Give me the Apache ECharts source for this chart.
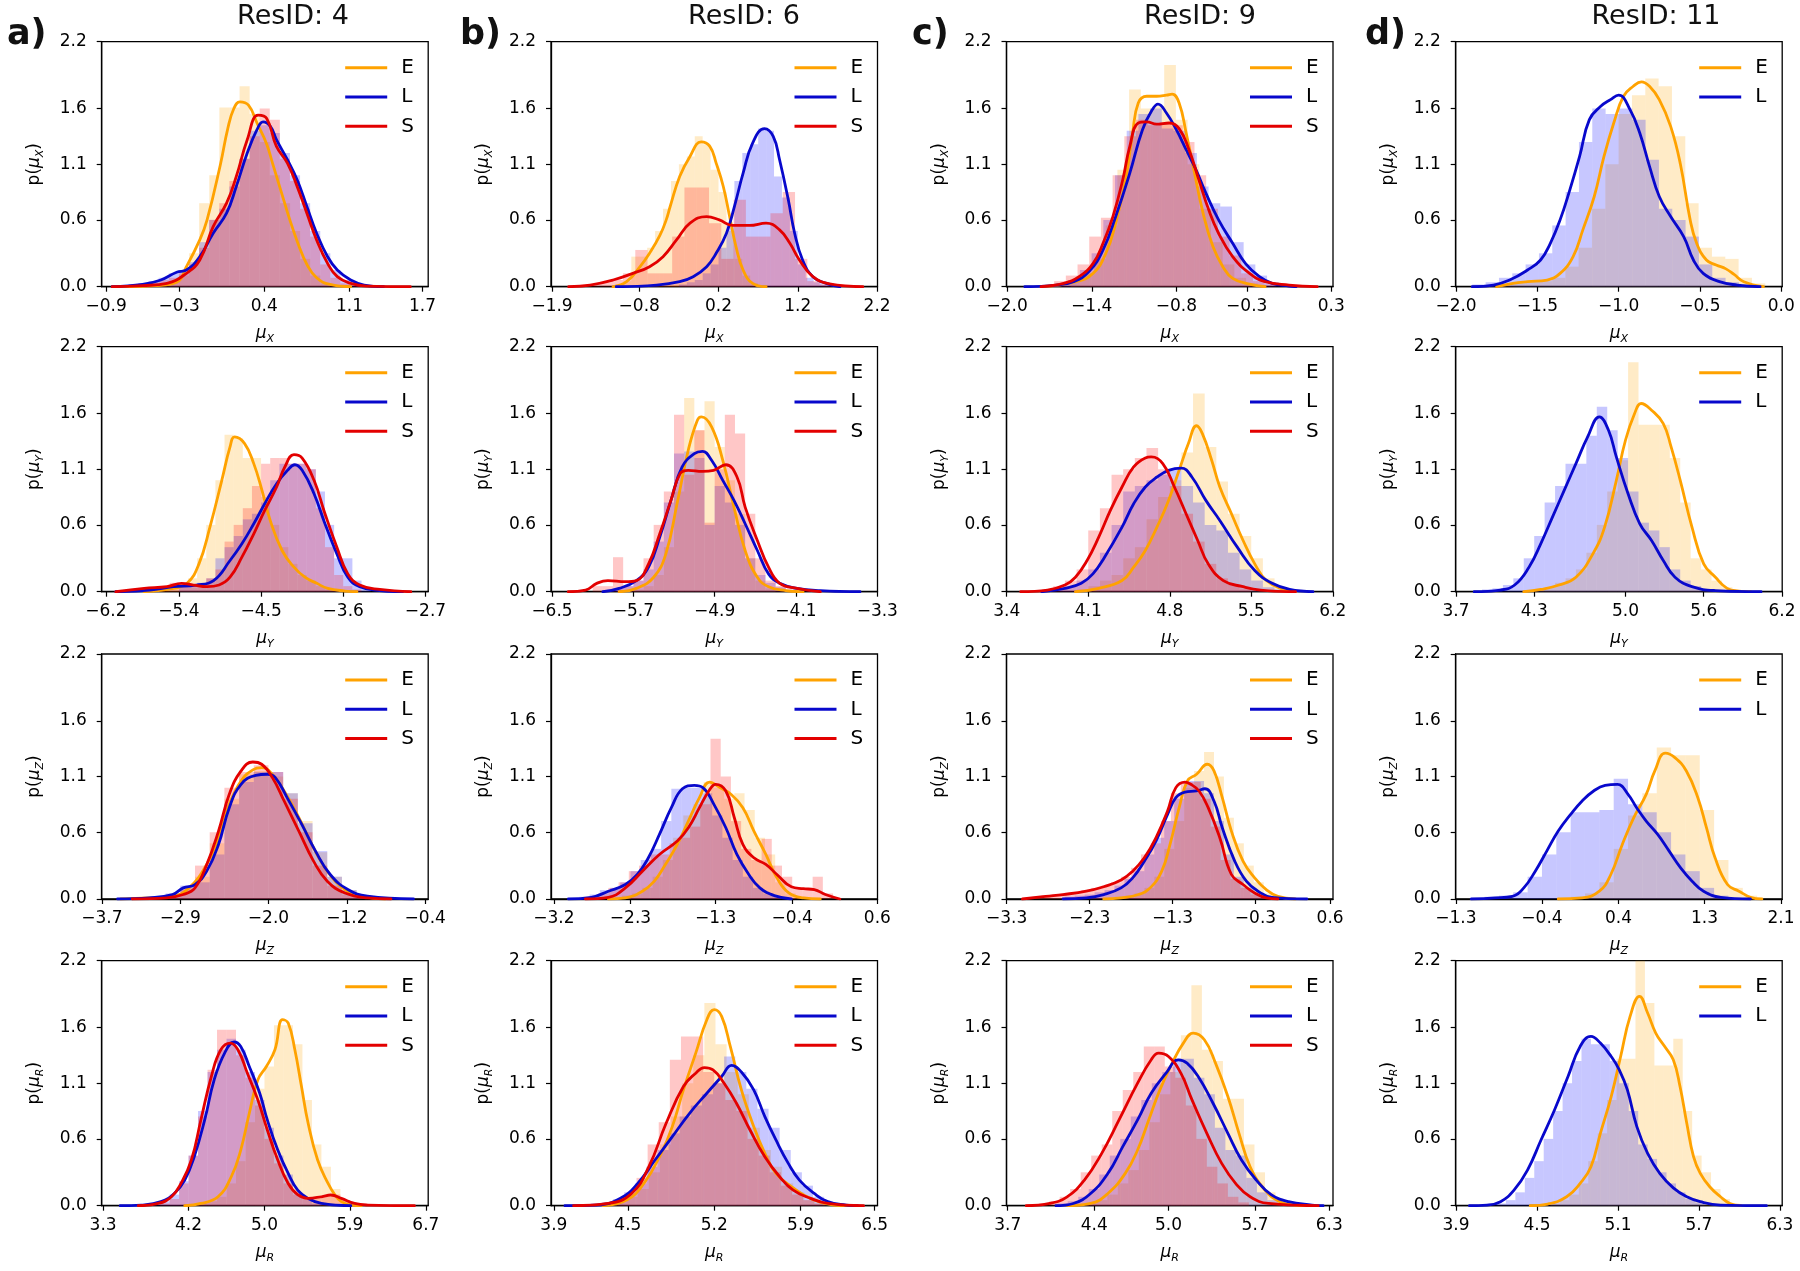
<!DOCTYPE html>
<html><head><meta charset="utf-8">
<script src="https://cdn.jsdelivr.net/npm/echarts@6/dist/echarts.min.js"></script>
<style>html,body{margin:0;padding:0;background:#fff}#c{width:1800px;height:1271px}</style>
</head><body><div id="c"></div>
<script>
// ---------- text ----------
const columnTitles = ['ResID: 4', 'ResID: 6', 'ResID: 9', 'ResID: 11'];
const panelLetters = ['a)', 'b)', 'c)', 'd)'];
const rowSubscripts = ['X', 'Y', 'Z', 'R'];
const yTicks = [0.0, 0.6, 1.1, 1.6, 2.2];

// ---------- x axis ranges & tick labels (column letter, row number) ----------
const xTicks_a1 = [-0.9, -0.3, 0.4, 1.1, 1.7];   const xLim_a1 = [-0.936, 1.747];
const xTicks_b1 = [-1.9, -0.8, 0.2, 1.2, 2.2];   const xLim_b1 = [-1.913, 2.205];
const xTicks_c1 = [-2.0, -1.4, -0.8, -0.3, 0.3]; const xLim_c1 = [-2.005, 0.312];
const xTicks_d1 = [-2.0, -1.5, -1.0, -0.5, 0.0]; const xLim_d1 = [-2.002, 0.006];
const xTicks_a2 = [-6.2, -5.4, -4.5, -3.6, -2.7]; const xLim_a2 = [-6.245, -2.67];
const xTicks_b2 = [-6.5, -5.7, -4.9, -4.1, -3.3]; const xLim_b2 = [-6.51, -3.298];
const xTicks_c2 = [3.4, 4.1, 4.8, 5.5, 6.2];     const xLim_c2 = [3.398, 6.202];
const xTicks_d2 = [3.7, 4.3, 5.0, 5.6, 6.2];     const xLim_d2 = [3.698, 6.202];
const xTicks_a3 = [-3.7, -2.9, -2.0, -1.2, -0.4]; const xLim_a3 = [-3.702, -0.37];
const xTicks_b3 = [-3.2, -2.3, -1.3, -0.4, 0.6]; const xLim_b3 = [-3.234, 0.602];
const xTicks_c3 = [-3.3, -2.3, -1.3, -0.3, 0.6]; const xLim_c3 = [-3.302, 0.635];
const xTicks_d3 = [-1.3, -0.4, 0.4, 1.3, 2.1];   const xLim_d3 = [-1.302, 2.112];
const xTicks_a4 = [3.3, 4.2, 5.0, 5.9, 6.7];     const xLim_a4 = [3.285, 6.725];
const xTicks_b4 = [3.9, 4.5, 5.2, 5.9, 6.5];     const xLim_b4 = [3.877, 6.523];
const xTicks_c4 = [3.7, 4.4, 5.0, 5.7, 6.3];     const xLim_c4 = [3.69, 6.33];
const xTicks_d4 = [3.9, 4.5, 5.1, 5.7, 6.3];     const xLim_d4 = [3.898, 6.317];

// ---------- row 1 : mu_X ----------
const a1_E_kde = [[-0.80,0],[-0.50,0.01],[-0.32,0.04],[-0.24,0.18],[-0.13,0.42],[-0.07,0.6],[0.04,1.1],[0.10,1.42],[0.15,1.60],[0.20,1.66],[0.27,1.63],[0.34,1.47],[0.42,1.28],[0.47,1.1],[0.54,0.85],[0.61,0.6],[0.68,0.38],[0.75,0.2],[0.83,0.08],[0.94,0.02],[1.11,0]];
const a1_L_kde = [[-0.85,0],[-0.6,0.02],[-0.45,0.06],[-0.32,0.13],[-0.24,0.15],[-0.13,0.27],[-0.02,0.48],[0.09,0.66],[0.17,0.9],[0.26,1.2],[0.34,1.41],[0.39,1.48],[0.45,1.44],[0.5,1.32],[0.59,1.14],[0.67,0.96],[0.75,0.72],[0.83,0.48],[0.92,0.27],[1.0,0.15],[1.11,0.06],[1.22,0.015],[1.38,0]];
const a1_S_kde = [[-0.85,0],[-0.6,0.01],[-0.4,0.03],[-0.24,0.12],[-0.13,0.24],[-0.02,0.54],[0.09,0.75],[0.17,0.99],[0.26,1.32],[0.35,1.54],[0.42,1.51],[0.5,1.26],[0.59,1.11],[0.67,0.9],[0.75,0.66],[0.83,0.42],[0.92,0.21],[1.0,0.09],[1.11,0.03],[1.24,0.006],[1.6,0]];
const a1_E_hist = {start:-0.55, width:0.083, h:[0.01,0.02,0.04,0.1,0.3,0.75,1.0,1.61,1.61,1.8,1.55,1.3,1.0,0.75,0.5,0.25,0.1,0.03]};
const a1_L_hist = {start:-0.8, width:0.083, h:[0.01,0.02,0.03,0.05,0.08,0.12,0.15,0.22,0.4,0.6,0.7,0.9,1.15,1.4,1.45,1.38,1.2,1.0,0.75,0.5,0.3,0.15,0.06,0.02]};
const a1_S_hist = {start:-0.8, width:0.083, h:[0.01,0.02,0.03,0.04,0.06,0.08,0.12,0.2,0.35,0.6,0.75,0.95,1.15,1.35,1.6,1.5,1.15,0.95,0.7,0.45,0.2,0.08,0.03,0.01]};

const b1_E_kde = [[-1.13,0],[-0.96,0.045],[-0.79,0.18],[-0.67,0.3],[-0.54,0.46],[-0.46,0.6],[-0.41,0.72],[-0.29,0.99],[-0.16,1.17],[-0.02,1.30],[0.09,1.26],[0.17,1.11],[0.26,0.9],[0.34,0.63],[0.42,0.36],[0.51,0.15],[0.63,0.03],[0.8,0]];
const b1_L_kde = [[-1.09,0],[-0.58,0.015],[-0.29,0.045],[-0.12,0.09],[0.05,0.18],[0.17,0.3],[0.3,0.48],[0.4,0.72],[0.51,1.02],[0.63,1.29],[0.78,1.42],[0.89,1.35],[0.97,1.14],[1.08,0.78],[1.16,0.48],[1.26,0.24],[1.39,0.09],[1.56,0.03],[1.73,0]];
const b1_S_kde = [[-1.69,0],[-1.42,0.015],[-1.13,0.06],[-0.88,0.12],[-0.67,0.18],[-0.5,0.27],[-0.33,0.42],[-0.16,0.57],[0.05,0.63],[0.21,0.6],[0.38,0.55],[0.59,0.55],[0.8,0.57],[0.97,0.51],[1.1,0.39],[1.22,0.24],[1.39,0.09],[1.6,0.025],[2.02,0]];
const b1_E_hist = {start:-1.1, width:0.1, h:[0.02,0.05,0.27,0.27,0.35,0.5,0.7,0.95,1.1,1.17,1.35,1.28,1.05,0.85,0.5,0.25,0.1,0.03]};
const b1_L_hist = {start:-0.3, width:0.1, h:[0.02,0.04,0.06,0.12,0.2,0.35,0.55,0.95,1.2,1.28,1.42,1.4,0.99,0.8,0.5,0.2,0.08,0.04,0.02]};
const b1_S_hist = {start:-1.47, width:0.155, h:[0.02,0.04,0.06,0.12,0.33,0.12,0.12,0.45,0.89,0.89,0.57,0.25,0.78,0.45,0.45,0.66,0.85,0.25,0.05,0.02]};

const c1_E_kde = [[-1.76,0],[-1.51,0.045],[-1.39,0.12],[-1.30,0.3],[-1.23,0.57],[-1.16,0.96],[-1.11,1.38],[-1.07,1.65],[-1.01,1.71],[-0.94,1.71],[-0.87,1.72],[-0.83,1.73],[-0.78,1.65],[-0.73,1.38],[-0.68,1.08],[-0.61,0.66],[-0.54,0.36],[-0.47,0.18],[-0.40,0.075],[-0.28,0.024],[-0.17,0]];
const c1_L_kde = [[-1.875,0],[-1.65,0.015],[-1.53,0.045],[-1.42,0.135],[-1.32,0.33],[-1.23,0.63],[-1.13,1.02],[-1.04,1.41],[-0.97,1.59],[-0.93,1.64],[-0.87,1.56],[-0.80,1.41],[-0.73,1.23],[-0.66,1.05],[-0.59,0.84],[-0.50,0.6],[-0.40,0.39],[-0.31,0.21],[-0.21,0.09],[-0.12,0.03],[0.0,0.006],[0.05,0]];
const c1_S_kde = [[-1.76,0],[-1.6,0.03],[-1.49,0.09],[-1.39,0.21],[-1.32,0.39],[-1.25,0.63],[-1.18,0.96],[-1.13,1.26],[-1.07,1.47],[-1.01,1.48],[-0.94,1.46],[-0.85,1.47],[-0.78,1.42],[-0.71,1.23],[-0.64,0.96],[-0.57,0.69],[-0.5,0.48],[-0.4,0.27],[-0.28,0.12],[-0.17,0.045],[0.0,0.015],[0.2,0]];
const c1_E_hist = {start:-1.55, width:0.083, h:[0.05,0.12,0.25,0.55,1.05,1.77,1.6,1.62,1.99,1.5,1.1,0.7,0.4,0.2,0.08,0.03]};
const c1_L_hist = {start:-1.65, width:0.083, h:[0.03,0.06,0.15,0.3,0.6,1.0,1.4,1.55,1.6,1.42,1.4,1.2,0.9,0.75,0.72,0.4,0.2,0.1,0.04]};
const c1_S_hist = {start:-1.75, width:0.083, h:[0.02,0.05,0.1,0.2,0.45,0.62,1.0,1.35,1.5,1.45,1.48,1.45,1.3,1.0,0.7,0.45,0.28,0.12,0.05,0.02]};

const d1_E_kde = [[-1.75,0],[-1.65,0.03],[-1.56,0.045],[-1.44,0.06],[-1.36,0.12],[-1.28,0.27],[-1.22,0.51],[-1.15,0.81],[-1.09,1.17],[-1.03,1.47],[-0.97,1.71],[-0.91,1.8],[-0.86,1.84],[-0.81,1.8],[-0.75,1.68],[-0.68,1.44],[-0.62,1.1],[-0.56,0.6],[-0.52,0.39],[-0.46,0.24],[-0.4,0.195],[-0.34,0.16],[-0.29,0.11],[-0.23,0.045],[-0.11,0]];
const d1_L_kde = [[-1.9,0],[-1.77,0.015],[-1.67,0.06],[-1.56,0.15],[-1.48,0.24],[-1.42,0.39],[-1.36,0.6],[-1.3,0.87],[-1.24,1.17],[-1.18,1.5],[-1.11,1.62],[-1.05,1.68],[-1.0,1.72],[-0.93,1.59],[-0.87,1.38],[-0.81,1.08],[-0.75,0.81],[-0.68,0.63],[-0.6,0.45],[-0.54,0.24],[-0.48,0.12],[-0.38,0.045],[-0.27,0.015],[-0.13,0]];
const d1_E_hist = {start:-1.82, width:0.082, h:[0.01,0.02,0.03,0.05,0.05,0.08,0.18,0.35,0.7,1.1,1.55,1.72,1.87,1.8,1.35,0.75,0.35,0.27,0.25,0.08,0.03]};
const d1_L_hist = {start:-1.9, width:0.082, h:[0.02,0.04,0.08,0.12,0.2,0.3,0.55,0.85,1.3,1.6,1.55,1.6,1.5,1.14,0.7,0.6,0.45,0.2,0.08,0.04,0.02]};

// ---------- row 2 : mu_Y ----------
const a2_E_kde = [[-5.78,0],[-5.46,0.03],[-5.31,0.075],[-5.18,0.25],[-5.06,0.58],[-4.93,1.0],[-4.84,1.3],[-4.79,1.39],[-4.68,1.33],[-4.58,1.15],[-4.49,0.91],[-4.4,0.64],[-4.27,0.37],[-4.14,0.22],[-4.02,0.13],[-3.89,0.075],[-3.77,0.03],[-3.58,0.006],[-3.45,0]];
const a2_L_kde = [[-6.09,0],[-5.72,0.015],[-5.46,0.045],[-5.21,0.06],[-5.02,0.1],[-4.84,0.28],[-4.71,0.43],[-4.58,0.61],[-4.46,0.79],[-4.33,0.97],[-4.21,1.09],[-4.13,1.14],[-4.05,1.09],[-3.92,0.88],[-3.8,0.61],[-3.67,0.34],[-3.55,0.13],[-3.42,0.045],[-3.2,0.01],[-2.95,0]];
const a2_S_kde = [[-6.09,0],[-5.78,0.03],[-5.53,0.045],[-5.37,0.075],[-5.24,0.06],[-5.09,0.045],[-4.96,0.06],[-4.84,0.13],[-4.71,0.31],[-4.58,0.52],[-4.46,0.73],[-4.33,0.94],[-4.24,1.12],[-4.14,1.23],[-4.05,1.2],[-3.92,1.0],[-3.8,0.7],[-3.67,0.4],[-3.55,0.16],[-3.42,0.06],[-3.2,0.02],[-2.86,0]];
const a2_E_hist = {start:-5.8, width:0.1, h:[0.02,0.03,0.05,0.05,0.08,0.12,0.3,0.6,1.0,1.41,1.38,1.2,1.2,0.85,0.6,0.4,0.25,0.15,0.1,0.05,0.02]};
const a2_L_hist = {start:-5.4, width:0.1, h:[0.05,0.06,0.08,0.12,0.3,0.4,0.5,0.65,0.7,0.8,1.0,1.15,1.15,1.15,1.1,0.9,0.6,0.3,0.3,0.1,0.03]};
const a2_S_hist = {start:-5.6, width:0.1, h:[0.05,0.08,0.06,0.04,0.06,0.12,0.2,0.45,0.6,0.75,0.95,1.15,1.2,1.2,1.15,1.15,1.1,0.75,0.4,0.15,0.05,0.02]};

const b2_E_kde = [[-5.84,0],[-5.67,0.03],[-5.5,0.13],[-5.38,0.34],[-5.27,0.79],[-5.16,1.27],[-5.07,1.54],[-5.03,1.57],[-4.93,1.48],[-4.82,1.18],[-4.71,0.76],[-4.6,0.37],[-4.48,0.13],[-4.37,0.045],[-4.2,0.01],[-4.03,0]];
const b2_L_kde = [[-6.0,0],[-5.84,0.03],[-5.67,0.1],[-5.55,0.22],[-5.44,0.49],[-5.33,0.82],[-5.22,1.12],[-5.1,1.24],[-5.02,1.26],[-4.93,1.18],[-4.82,1.0],[-4.71,0.82],[-4.6,0.61],[-4.48,0.37],[-4.37,0.16],[-4.26,0.075],[-4.09,0.03],[-3.86,0.01],[-3.47,0]];
const b2_S_kde = [[-6.34,0],[-6.17,0.015],[-6.06,0.075],[-5.95,0.1],[-5.78,0.09],[-5.67,0.1],[-5.55,0.25],[-5.44,0.52],[-5.33,0.82],[-5.24,1.06],[-5.16,1.09],[-5.02,1.08],[-4.91,1.09],[-4.79,1.14],[-4.68,1.03],[-4.6,0.76],[-4.48,0.46],[-4.37,0.22],[-4.26,0.075],[-4.09,0.03],[-3.86,0]];
const b2_E_hist = {start:-5.7, width:0.1, h:[0.02,0.05,0.15,0.4,0.9,1.74,1.45,1.71,1.3,1.0,0.7,0.3,0.1,0.03]};
const b2_L_hist = {start:-5.9, width:0.1, h:[0.03,0.05,0.1,0.2,0.45,0.8,1.24,1.26,1.2,0.6,0.95,0.8,0.6,0.3,0.15,0.08,0.04,0.02]};
const b2_S_hist = {start:-6.1, width:0.1, h:[0.05,0.05,0.31,0.05,0.1,0.3,0.6,0.9,1.59,1.05,1.45,0.62,1.1,1.59,1.42,0.7,0.3,0.1,0.05]};

const c2_E_kde = [[3.99,0],[4.19,0.03],[4.39,0.1],[4.49,0.22],[4.59,0.37],[4.69,0.58],[4.79,0.82],[4.89,1.12],[4.96,1.33],[5.03,1.49],[5.08,1.42],[5.16,1.18],[5.23,0.94],[5.33,0.7],[5.43,0.46],[5.53,0.25],[5.63,0.1],[5.78,0.02],[5.88,0]];
const c2_L_kde = [[3.7,0],[3.9,0.03],[4.04,0.075],[4.14,0.16],[4.24,0.31],[4.39,0.58],[4.49,0.79],[4.59,0.94],[4.69,1.03],[4.79,1.09],[4.9,1.11],[4.99,1.03],[5.11,0.82],[5.23,0.64],[5.38,0.4],[5.53,0.19],[5.68,0.075],[5.83,0.02],[6.03,0]];
const c2_S_kde = [[3.52,0],[3.75,0.015],[3.9,0.06],[3.99,0.13],[4.09,0.28],[4.19,0.49],[4.29,0.73],[4.39,0.94],[4.49,1.12],[4.59,1.2],[4.64,1.21],[4.74,1.15],[4.84,0.94],[4.94,0.7],[5.04,0.46],[5.13,0.25],[5.26,0.1],[5.43,0.045],[5.58,0.015],[5.88,0]];
const c2_E_hist = {start:4.0, width:0.1, h:[0.02,0.05,0.1,0.15,0.3,0.4,0.65,0.85,1.0,1.25,1.78,1.3,0.99,0.7,0.5,0.3,0.12,0.04]};
const c2_L_hist = {start:3.8, width:0.1, h:[0.02,0.05,0.1,0.2,0.35,0.6,0.9,0.95,1.0,1.05,1.1,0.95,0.8,0.6,0.55,0.35,0.2,0.1,0.04,0.02]};
const c2_S_hist = {start:3.7, width:0.1, h:[0.02,0.05,0.1,0.2,0.55,0.75,1.05,1.1,1.2,1.29,1.1,0.95,0.7,0.45,0.25,0.12,0.06,0.03]};

const d2_E_kde = [[4.22,0],[4.35,0.02],[4.49,0.06],[4.62,0.13],[4.75,0.34],[4.84,0.58],[4.93,1.0],[5.0,1.36],[5.07,1.6],[5.12,1.69],[5.2,1.63],[5.29,1.51],[5.35,1.3],[5.42,1.0],[5.51,0.58],[5.6,0.25],[5.69,0.13],[5.78,0.03],[5.87,0.006],[5.96,0]];
const d2_L_kde = [[3.84,0],[4.04,0.015],[4.15,0.06],[4.26,0.22],[4.35,0.43],[4.44,0.67],[4.53,0.91],[4.62,1.15],[4.71,1.39],[4.8,1.57],[4.87,1.45],[4.93,1.21],[5.02,0.88],[5.11,0.61],[5.2,0.46],[5.29,0.28],[5.38,0.13],[5.51,0.045],[5.69,0.01],[6.04,0]];
const d2_E_hist = {start:4.3, width:0.08, h:[0.02,0.04,0.08,0.12,0.2,0.35,0.6,0.9,1.18,2.06,1.5,1.5,1.5,1.2,0.8,0.3,0.2,0.1,0.04]};
const d2_L_hist = {start:3.9, width:0.08, h:[0.02,0.03,0.06,0.12,0.3,0.5,0.8,0.95,1.15,1.15,1.4,1.66,1.45,1.2,0.9,0.62,0.55,0.4,0.2,0.1,0.05,0.02]};

// ---------- row 3 : mu_Z ----------
const a3_E_kde = [[-3.51,0],[-3.22,0.01],[-2.98,0.025],[-2.81,0.1],[-2.63,0.31],[-2.51,0.55],[-2.4,0.85],[-2.28,1.06],[-2.16,1.16],[-2.07,1.18],[-1.96,1.12],[-1.84,0.97],[-1.69,0.73],[-1.54,0.46],[-1.4,0.25],[-1.22,0.085],[-1.05,0.025],[-0.81,0]];
const a3_L_kde = [[-3.54,0],[-3.22,0.01],[-2.98,0.04],[-2.87,0.1],[-2.75,0.13],[-2.63,0.25],[-2.51,0.49],[-2.4,0.82],[-2.28,1.03],[-2.13,1.11],[-2.01,1.12],[-1.93,1.09],[-1.81,0.91],[-1.66,0.67],[-1.52,0.43],[-1.37,0.22],[-1.19,0.085],[-0.99,0.025],[-0.52,0]];
const a3_S_kde = [[-3.39,0],[-3.04,0.01],[-2.87,0.04],[-2.75,0.1],[-2.63,0.31],[-2.51,0.61],[-2.4,0.94],[-2.28,1.15],[-2.16,1.23],[-2.07,1.21],[-1.96,1.09],[-1.84,0.88],[-1.69,0.61],[-1.54,0.34],[-1.4,0.16],[-1.22,0.054],[-0.99,0.01],[-0.75,0]];
const a3_E_hist = {start:-3.2, width:0.15, h:[0.01,0.03,0.08,0.2,0.5,0.9,1.12,1.15,1.1,0.95,0.7,0.42,0.2,0.08,0.02]};
const a3_L_hist = {start:-3.2, width:0.15, h:[0.02,0.05,0.12,0.15,0.4,0.85,1.05,1.14,1.14,0.95,0.68,0.43,0.2,0.08,0.03]};
const a3_S_hist = {start:-3.2, width:0.15, h:[0.01,0.03,0.1,0.3,0.6,1.0,1.14,1.2,1.14,0.9,0.6,0.3,0.12,0.04,0.01]};

const b3_E_kde = [[-2.56,0],[-2.36,0.01],[-2.16,0.07],[-2.02,0.16],[-1.89,0.31],[-1.75,0.49],[-1.62,0.7],[-1.49,0.91],[-1.37,1.05],[-1.25,1.0],[-1.12,0.94],[-0.98,0.82],[-0.85,0.61],[-0.71,0.4],[-0.58,0.19],[-0.44,0.054],[-0.27,0.01],[-0.07,0]];
const b3_L_kde = [[-3.03,0],[-2.76,0.015],[-2.56,0.07],[-2.36,0.13],[-2.22,0.22],[-2.09,0.37],[-1.96,0.58],[-1.82,0.82],[-1.69,0.99],[-1.55,1.02],[-1.45,1.0],[-1.32,0.85],[-1.18,0.64],[-1.05,0.4],[-0.91,0.22],[-0.78,0.1],[-0.61,0.03],[-0.41,0]];
const b3_S_kde = [[-2.83,0],[-2.56,0.015],[-2.36,0.1],[-2.16,0.25],[-1.96,0.4],[-1.75,0.52],[-1.62,0.64],[-1.49,0.82],[-1.38,0.97],[-1.3,1.03],[-1.18,0.97],[-1.08,0.73],[-0.98,0.49],[-0.85,0.37],[-0.71,0.31],[-0.58,0.22],[-0.41,0.11],[-0.27,0.093],[-0.14,0.084],[-0.01,0.04],[0.16,0]];
const b3_E_hist = {start:-2.4, width:0.12, h:[0.03,0.05,0.1,0.2,0.35,0.55,0.75,0.85,1.05,1.0,0.9,0.95,0.8,0.55,0.4,0.15,0.05,0.02]};
const b3_L_hist = {start:-2.9, width:0.12, h:[0.02,0.04,0.08,0.1,0.15,0.25,0.35,0.45,0.7,0.99,1.0,1.0,0.95,0.75,0.55,0.35,0.2,0.1,0.05,0.02]};
const b3_S_hist = {start:-2.8, width:0.12, h:[0.02,0.05,0.1,0.15,0.25,0.3,0.4,0.4,0.5,0.55,0.65,0.85,1.44,1.1,0.7,0.45,0.35,0.54,0.3,0.2,0.1,0.08,0.2,0.05]};

const c3_E_kde = [[-2.13,0],[-1.92,0.01],[-1.71,0.04],[-1.57,0.1],[-1.43,0.25],[-1.33,0.49],[-1.22,0.82],[-1.12,1.06],[-1.01,1.12],[-0.88,1.21],[-0.8,1.15],[-0.7,0.91],[-0.59,0.61],[-0.45,0.34],[-0.31,0.19],[-0.17,0.084],[-0.03,0.024],[0.18,0]];
const c3_L_kde = [[-2.62,0],[-2.34,0.01],[-2.13,0.04],[-1.92,0.1],[-1.78,0.19],[-1.64,0.34],[-1.5,0.52],[-1.36,0.76],[-1.26,0.91],[-1.15,0.96],[-1.01,0.97],[-0.91,0.99],[-0.8,0.88],[-0.7,0.64],[-0.55,0.34],[-0.41,0.16],[-0.27,0.07],[-0.1,0.015],[0.32,0]];
const c3_S_kde = [[-3.11,0],[-2.83,0.024],[-2.62,0.04],[-2.34,0.07],[-2.13,0.11],[-1.92,0.17],[-1.78,0.25],[-1.64,0.37],[-1.5,0.55],[-1.36,0.79],[-1.26,1.0],[-1.15,1.05],[-1.08,1.03],[-0.98,0.97],[-0.87,0.82],[-0.73,0.55],[-0.59,0.22],[-0.45,0.13],[-0.31,0.054],[-0.17,0.01],[-0.03,0]];
const c3_E_hist = {start:-2.0, width:0.12, h:[0.02,0.03,0.05,0.1,0.2,0.45,0.7,1.0,1.15,1.32,1.1,0.73,0.5,0.3,0.15,0.05,0.02]};
const c3_L_hist = {start:-2.6, width:0.12, h:[0.02,0.03,0.04,0.06,0.08,0.12,0.18,0.25,0.4,0.55,0.7,0.9,1.06,1.06,0.95,0.7,0.4,0.2,0.1,0.04,0.02]};
const c3_S_hist = {start:-3.0, width:0.12, h:[0.02,0.03,0.04,0.05,0.06,0.08,0.1,0.12,0.15,0.2,0.28,0.4,0.5,0.7,0.95,1.05,1.05,0.9,0.65,0.35,0.18,0.1,0.04,0.02]};

const d3_E_kde = [[-0.23,0],[0.02,0.01],[0.2,0.07],[0.32,0.22],[0.44,0.49],[0.56,0.73],[0.69,0.94],[0.78,1.15],[0.89,1.31],[0.99,1.27],[1.11,1.15],[1.23,0.91],[1.32,0.64],[1.41,0.37],[1.54,0.13],[1.66,0.07],[1.78,0.015],[1.9,0]];
const d3_L_kde = [[-1.14,0],[-0.89,0.01],[-0.71,0.024],[-0.59,0.1],[-0.47,0.25],[-0.35,0.43],[-0.23,0.61],[-0.1,0.76],[0.02,0.88],[0.14,0.97],[0.26,1.02],[0.39,1.03],[0.5,0.94],[0.59,0.82],[0.69,0.7],[0.81,0.58],[0.93,0.43],[1.05,0.28],[1.17,0.16],[1.29,0.07],[1.47,0.015],[1.78,0]];
const d3_E_hist = {start:-0.1, width:0.15, h:[0.02,0.05,0.15,0.45,0.75,0.95,1.36,1.29,1.29,0.8,0.35,0.1,0.03]};
const d3_L_hist = {start:-1.0, width:0.15, h:[0.02,0.03,0.06,0.2,0.4,0.6,0.78,0.78,0.8,1.08,0.85,0.78,0.6,0.4,0.25,0.1,0.03]};

// ---------- row 4 : mu_R ----------
const a4_E_kde = [[4.16,0],[4.33,0.02],[4.51,0.08],[4.65,0.26],[4.75,0.5],[4.84,0.83],[4.93,1.13],[5.02,1.25],[5.11,1.4],[5.19,1.67],[5.25,1.64],[5.32,1.4],[5.39,1.07],[5.46,0.74],[5.56,0.41],[5.67,0.2],[5.74,0.1],[5.81,0.036],[5.91,0.006],[6.02,0]];
const a4_L_kde = [[3.48,0],[3.7,0.006],[3.91,0.036],[4.05,0.11],[4.16,0.23],[4.26,0.44],[4.37,0.77],[4.47,1.13],[4.58,1.37],[4.68,1.47],[4.75,1.43],[4.84,1.25],[4.95,1.01],[5.03,0.77],[5.14,0.5],[5.25,0.29],[5.35,0.14],[5.46,0.066],[5.6,0.02],[5.91,0]];
const a4_S_kde = [[3.67,0],[3.88,0.02],[4.02,0.08],[4.12,0.2],[4.23,0.41],[4.33,0.77],[4.44,1.16],[4.54,1.4],[4.64,1.46],[4.72,1.4],[4.82,1.19],[4.93,0.95],[5.03,0.68],[5.14,0.41],[5.25,0.2],[5.35,0.1],[5.46,0.066],[5.6,0.08],[5.7,0.096],[5.81,0.066],[5.95,0.02],[6.09,0.006],[6.58,0]];
const a4_E_hist = {start:4.3, width:0.1, h:[0.02,0.04,0.08,0.2,0.4,0.75,1.05,1.25,1.62,1.62,1.45,0.95,0.55,0.35,0.15,0.05]};
const a4_L_hist = {start:3.8, width:0.1, h:[0.02,0.04,0.1,0.22,0.45,0.85,1.2,1.4,1.5,1.4,1.2,0.95,0.7,0.45,0.28,0.12,0.06,0.02]};
const a4_S_hist = {start:3.9, width:0.1, h:[0.02,0.06,0.2,0.45,0.8,1.22,1.58,1.58,1.35,1.15,0.9,0.6,0.38,0.2,0.1,0.06,0.06,0.08,0.1,0.05,0.02]};

const b4_E_kde = [[4.3,0],[4.49,0.05],[4.63,0.2],[4.77,0.47],[4.86,0.71],[4.95,1.04],[5.05,1.37],[5.14,1.67],[5.2,1.76],[5.26,1.7],[5.33,1.43],[5.42,1.04],[5.52,0.71],[5.61,0.47],[5.7,0.29],[5.84,0.16],[5.98,0.066],[6.17,0.006],[6.27,0]];
const b4_L_kde = [[3.99,0],[4.25,0.006],[4.44,0.066],[4.58,0.2],[4.72,0.41],[4.86,0.62],[5.0,0.83],[5.14,1.01],[5.26,1.16],[5.34,1.26],[5.42,1.2],[5.52,1.04],[5.61,0.8],[5.7,0.59],[5.8,0.38],[5.89,0.23],[6.01,0.11],[6.12,0.036],[6.27,0.006],[6.36,0]];
const b4_S_kde = [[4.06,0],[4.34,0.02],[4.53,0.11],[4.67,0.35],[4.81,0.74],[4.95,1.07],[5.05,1.19],[5.12,1.24],[5.19,1.22],[5.28,1.1],[5.38,0.92],[5.49,0.68],[5.61,0.44],[5.73,0.26],[5.84,0.14],[5.98,0.066],[6.12,0.02],[6.41,0]];
const b4_E_hist = {start:4.4, width:0.09, h:[0.03,0.08,0.15,0.3,0.55,0.8,1.1,1.35,1.82,1.45,1.2,1.0,0.7,0.5,0.35,0.2,0.12,0.05,0.02]};
const b4_L_hist = {start:4.2, width:0.09, h:[0.02,0.03,0.06,0.12,0.2,0.35,0.5,0.65,0.8,0.9,1.0,1.1,1.34,1.2,1.05,0.87,0.7,0.5,0.3,0.18,0.08,0.03,0.01]};
const b4_S_hist = {start:4.3, width:0.09, h:[0.03,0.05,0.1,0.25,0.55,0.75,1.31,1.52,1.52,1.2,1.1,0.95,0.85,0.6,0.45,0.3,0.18,0.1,0.05,0.02]};

const c4_E_kde = [[4.18,0],[4.37,0.02],[4.51,0.11],[4.65,0.29],[4.75,0.5],[4.84,0.77],[4.93,1.04],[5.03,1.28],[5.12,1.46],[5.2,1.55],[5.29,1.49],[5.38,1.28],[5.48,0.98],[5.57,0.65],[5.66,0.35],[5.78,0.14],[5.9,0.036],[6.02,0.006],[6.11,0]];
const c4_L_kde = [[4.09,0],[4.23,0.02],[4.37,0.11],[4.51,0.29],[4.63,0.53],[4.75,0.77],[4.86,1.01],[4.98,1.19],[5.08,1.31],[5.15,1.28],[5.24,1.16],[5.36,0.92],[5.48,0.65],[5.59,0.41],[5.71,0.23],[5.83,0.1],[5.97,0.036],[6.16,0.006],[6.25,0]];
const c4_S_kde = [[3.85,0],[4.04,0.02],[4.18,0.08],[4.32,0.23],[4.46,0.47],[4.6,0.77],[4.75,1.1],[4.86,1.31],[4.92,1.37],[5.0,1.34],[5.1,1.19],[5.19,0.95],[5.31,0.65],[5.43,0.38],[5.55,0.19],[5.66,0.08],[5.81,0.02],[6.21,0]];
const c4_E_hist = {start:4.335, width:0.085, h:[0.02,0.05,0.1,0.2,0.32,0.5,0.75,1.0,1.2,1.53,1.98,1.4,1.3,0.96,0.96,0.55,0.3,0.12,0.04]};
const c4_L_hist = {start:4.1, width:0.085, h:[0.02,0.04,0.08,0.15,0.28,0.45,0.6,0.8,0.95,1.1,1.2,1.32,1.32,1.15,1.0,0.7,0.5,0.45,0.25,0.12,0.05,0.02]};
const c4_S_hist = {start:3.95, width:0.085, h:[0.02,0.04,0.08,0.15,0.3,0.45,0.55,0.85,1.04,1.2,1.43,1.43,1.25,1.15,0.9,0.6,0.35,0.2,0.08,0.03]};

const d4_E_kde = [[4.45,0],[4.58,0.015],[4.72,0.08],[4.82,0.2],[4.9,0.35],[4.97,0.65],[5.05,0.98],[5.12,1.34],[5.19,1.7],[5.26,1.88],[5.32,1.73],[5.38,1.55],[5.44,1.44],[5.51,1.31],[5.56,1.07],[5.61,0.74],[5.66,0.44],[5.71,0.29],[5.78,0.17],[5.86,0.08],[5.93,0.02],[6.01,0]];
const d4_L_kde = [[4.0,0],[4.13,0.006],[4.23,0.036],[4.33,0.14],[4.43,0.32],[4.53,0.59],[4.63,0.86],[4.73,1.16],[4.82,1.43],[4.9,1.52],[4.97,1.46],[5.05,1.34],[5.11,1.22],[5.17,1.04],[5.24,0.71],[5.32,0.47],[5.41,0.29],[5.51,0.16],[5.61,0.08],[5.71,0.036],[5.86,0.006],[6.2,0]];
const d4_E_hist = {start:4.6, width:0.07, h:[0.02,0.05,0.1,0.2,0.4,0.65,0.95,1.32,1.32,2.3,1.82,1.26,1.26,1.5,0.85,0.45,0.3,0.15,0.06,0.02]};
const d4_L_hist = {start:4.2, width:0.07, h:[0.02,0.05,0.12,0.25,0.4,0.6,0.85,1.1,1.3,1.5,1.45,1.45,1.3,1.1,0.85,0.55,0.42,0.3,0.2,0.12,0.06,0.03]};

// ---------- panel registry ----------
const panels = [
  {r:0,c:0,lim:xLim_a1,ticks:xTicks_a1,E:[a1_E_kde,a1_E_hist],L:[a1_L_kde,a1_L_hist],S:[a1_S_kde,a1_S_hist]},
  {r:0,c:1,lim:xLim_b1,ticks:xTicks_b1,E:[b1_E_kde,b1_E_hist],L:[b1_L_kde,b1_L_hist],S:[b1_S_kde,b1_S_hist]},
  {r:0,c:2,lim:xLim_c1,ticks:xTicks_c1,E:[c1_E_kde,c1_E_hist],L:[c1_L_kde,c1_L_hist],S:[c1_S_kde,c1_S_hist]},
  {r:0,c:3,lim:xLim_d1,ticks:xTicks_d1,E:[d1_E_kde,d1_E_hist],L:[d1_L_kde,d1_L_hist]},
  {r:1,c:0,lim:xLim_a2,ticks:xTicks_a2,E:[a2_E_kde,a2_E_hist],L:[a2_L_kde,a2_L_hist],S:[a2_S_kde,a2_S_hist]},
  {r:1,c:1,lim:xLim_b2,ticks:xTicks_b2,E:[b2_E_kde,b2_E_hist],L:[b2_L_kde,b2_L_hist],S:[b2_S_kde,b2_S_hist]},
  {r:1,c:2,lim:xLim_c2,ticks:xTicks_c2,E:[c2_E_kde,c2_E_hist],L:[c2_L_kde,c2_L_hist],S:[c2_S_kde,c2_S_hist]},
  {r:1,c:3,lim:xLim_d2,ticks:xTicks_d2,E:[d2_E_kde,d2_E_hist],L:[d2_L_kde,d2_L_hist]},
  {r:2,c:0,lim:xLim_a3,ticks:xTicks_a3,E:[a3_E_kde,a3_E_hist],L:[a3_L_kde,a3_L_hist],S:[a3_S_kde,a3_S_hist]},
  {r:2,c:1,lim:xLim_b3,ticks:xTicks_b3,E:[b3_E_kde,b3_E_hist],L:[b3_L_kde,b3_L_hist],S:[b3_S_kde,b3_S_hist]},
  {r:2,c:2,lim:xLim_c3,ticks:xTicks_c3,E:[c3_E_kde,c3_E_hist],L:[c3_L_kde,c3_L_hist],S:[c3_S_kde,c3_S_hist]},
  {r:2,c:3,lim:xLim_d3,ticks:xTicks_d3,E:[d3_E_kde,d3_E_hist],L:[d3_L_kde,d3_L_hist]},
  {r:3,c:0,lim:xLim_a4,ticks:xTicks_a4,E:[a4_E_kde,a4_E_hist],L:[a4_L_kde,a4_L_hist],S:[a4_S_kde,a4_S_hist]},
  {r:3,c:1,lim:xLim_b4,ticks:xTicks_b4,E:[b4_E_kde,b4_E_hist],L:[b4_L_kde,b4_L_hist],S:[b4_S_kde,b4_S_hist]},
  {r:3,c:2,lim:xLim_c4,ticks:xTicks_c4,E:[c4_E_kde,c4_E_hist],L:[c4_L_kde,c4_L_hist],S:[c4_S_kde,c4_S_hist]},
  {r:3,c:3,lim:xLim_d4,ticks:xTicks_d4,E:[d4_E_kde,d4_E_hist],L:[d4_L_kde,d4_L_hist]}
];

// ---------- styling / layout ----------
const FONT = 'DejaVu Sans';
const LINE = {E:'#FFA200', L:'#0808CC', S:'#E30000'};
const FILL = {E:'rgba(255,165,0,0.22)', L:'rgba(0,0,255,0.22)', S:'rgba(255,0,0,0.22)'};
const colLeft = [101.7, 551, 1006.5, 1455.7];
const rowTop = [41.7, 346.7, 654, 960.7];
const plotW = 326.5, plotH = 245;
const titleX = [293, 744, 1200, 1656];
const letterX = [7, 460, 912, 1365];

const fmt = v => (Math.abs(v) < 1e-9 ? '0.0' : v.toFixed(1)).replace('-', '\u2212');
const nameRich = {
  n: {fontFamily: FONT, fontSize: 17, lineHeight: 22, color: '#000'},
  m: {fontFamily: FONT, fontSize: 17, fontStyle: 'italic', lineHeight: 22, color: '#000'},
  s: {fontFamily: FONT, fontSize: 11, fontStyle: 'italic', lineHeight: 12, verticalAlign: 'bottom', color: '#000'}
};

const grid = [], xAxis = [], yAxis = [], series = [], legend = [];
panels.forEach((p, k) => {
  const sub = rowSubscripts[p.r];
  grid.push({left: colLeft[p.c], top: rowTop[p.r], width: plotW, height: plotH,
             show: true, borderColor: '#000', borderWidth: 1.3, backgroundColor: 'transparent'});
  xAxis.push({type: 'value', gridIndex: k, min: p.lim[0], max: p.lim[1],
    axisLine: {show: true, onZero: false, lineStyle: {color: '#000', width: 1.3}},
    axisTick: {show: true, length: 5, customValues: p.ticks, lineStyle: {color: '#000', width: 1.2}},
    axisLabel: {customValues: p.ticks, formatter: fmt, fontFamily: FONT, fontSize: 17, color: '#000', margin: 11},
    splitLine: {show: false},
    name: '{m|\u03bc}{s|' + sub + '}', nameLocation: 'middle', nameGap: 36,
    nameTextStyle: {rich: nameRich}});
  yAxis.push({type: 'value', gridIndex: k, min: 0, max: 2.2,
    axisLine: {show: true, onZero: false, lineStyle: {color: '#000', width: 1.3}},
    axisTick: {show: true, length: 5, customValues: yTicks, lineStyle: {color: '#000', width: 1.2}},
    axisLabel: {customValues: yTicks, formatter: v => v.toFixed(1), fontFamily: FONT, fontSize: 17, color: '#000', margin: 15},
    splitLine: {show: false},
    name: '{n|p(}{m|\u03bc}{s|' + sub + '}{n|)}', nameLocation: 'middle', nameGap: 56, nameRotate: 90,
    nameTextStyle: {rich: nameRich}});

  const keys = ['E', 'L', 'S'].filter(key => p[key]);
  // histograms (drawn first, below every line)
  keys.forEach(key => {
    const hs = p[key][1];
    const bins = hs.h.map((v, i) => [hs.start + i * hs.width, hs.start + (i + 1) * hs.width, v]);
    series.push({type: 'custom', name: key + ' hist', xAxisIndex: k, yAxisIndex: k, silent: true, z: 1,
      data: bins, encode: {x: [0, 1], y: 2},
      renderItem: (params, api) => {
        const a = api.coord([api.value(0), api.value(2)]);
        const b = api.coord([api.value(1), 0]);
        const cs = params.coordSys;
        const rect = echarts.graphic.clipRectByRect(
          {x: a[0], y: a[1], width: b[0] - a[0], height: b[1] - a[1]},
          {x: cs.x, y: cs.y, width: cs.width, height: cs.height});
        return rect ? {type: 'rect', shape: rect, style: {fill: FILL[key]}} : null;
      }});
  });
  // KDE lines
  keys.forEach((key, j) => {
    series.push({type: 'line', name: key, xAxisIndex: k, yAxisIndex: k, data: p[key][0],
      smooth: 0.45, symbol: 'none', showSymbol: false, silent: true,
      color: LINE[key], lineStyle: {color: LINE[key], width: 2.8, cap: 'round', join: 'round'}, itemStyle: {color: LINE[key]},
      z: 3 + j, clip: true, animation: false});
  });
  legend.push({data: keys, orient: 'vertical', selectedMode: false,
    left: colLeft[p.c] + plotW - 88, top: rowTop[p.r] + 10,
    icon: 'rect', itemWidth: 42, itemHeight: 3, itemGap: 7.3,
    textStyle: {fontFamily: FONT, fontSize: 20, color: '#000', lineHeight: 22, padding: [0, 0, 0, 9]}});
});

const graphic = [];
columnTitles.forEach((t, i) => graphic.push({type: 'text', x: titleX[i], y: 17,
  style: {text: t, fontFamily: FONT, fontSize: 27, fill: '#111', align: 'center', verticalAlign: 'middle'}}));
panelLetters.forEach((t, i) => graphic.push({type: 'text', x: letterX[i], y: 35,
  style: {text: t, fontFamily: FONT, fontSize: 35, fontWeight: 'bold', fill: '#111', align: 'left', verticalAlign: 'middle'}}));

const chart = echarts.init(document.getElementById('c'), null, {renderer: 'canvas', width: 1800, height: 1271});
chart.setOption({backgroundColor: '#fff', animation: false, grid, xAxis, yAxis, series, legend, graphic});
</script>
</body></html>
